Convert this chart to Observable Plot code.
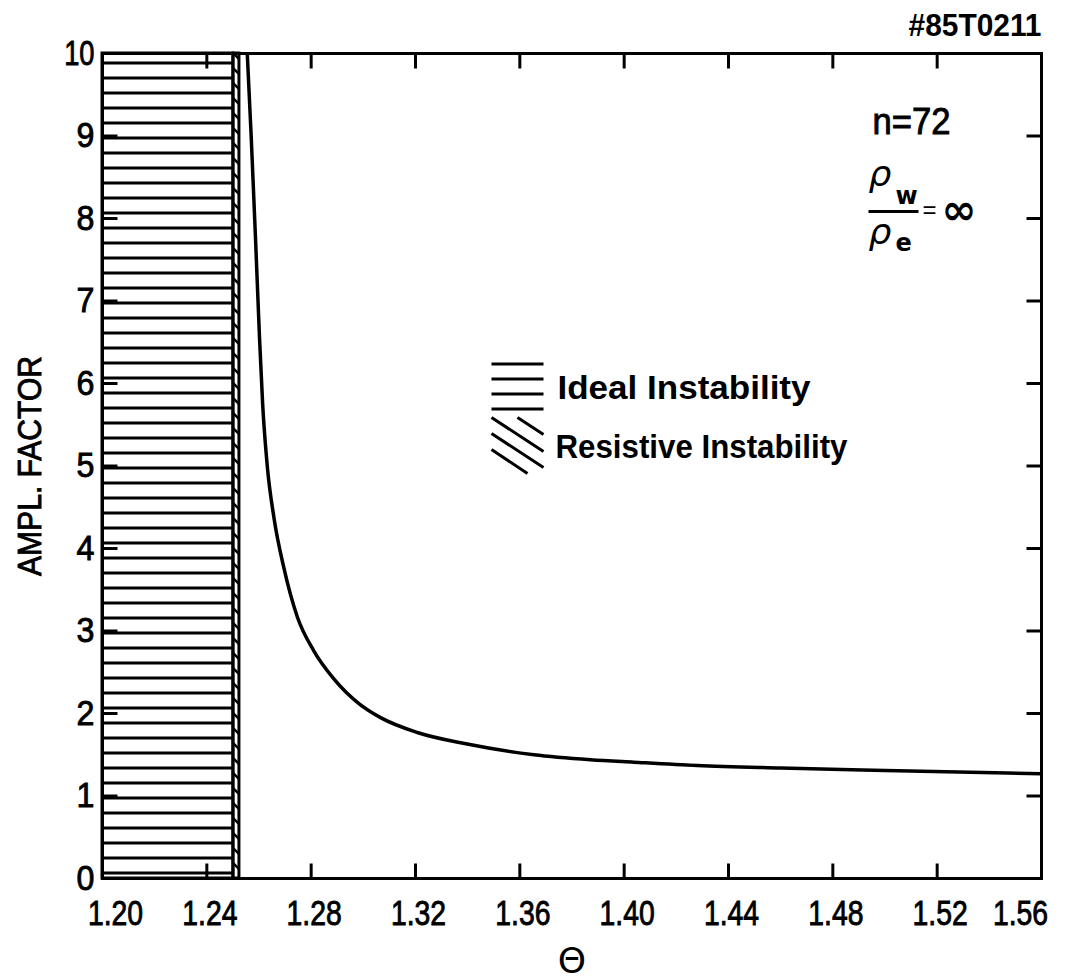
<!DOCTYPE html>
<html>
<head>
<meta charset="utf-8">
<script src="https://cdn.jsdelivr.net/npm/d3@7"></script>
<script src="https://cdn.jsdelivr.net/npm/@observablehq/plot@0.6"></script>
<style>
  html, body { margin: 0; padding: 0; background: #fff; }
</style>
</head>
<body>
<svg width="0" height="0" style="position:absolute">
  <defs>
    <pattern id="hatchH" patternUnits="userSpaceOnUse" width="20" height="15">
      <rect x="0" y="1.5" width="20" height="3" fill="#000"></rect>
    </pattern>
    <pattern id="hatchD" patternUnits="userSpaceOnUse" width="15" height="15">
      <path d="M-4,-4 L19,19 M-4,11 L4,19 M11,-4 L19,4" stroke="#000" stroke-width="2.5"></path>
    </pattern>
  </defs>
</svg>
<div id="chart"></div>
<script>
// ---- data ----
const xTicks = [1.20, 1.24, 1.28, 1.32, 1.36, 1.40, 1.44, 1.48, 1.52, 1.56];
const yTicks = [0, 1, 2, 3, 4, 5, 6, 7, 8, 9, 10];

const theta = [1.2555, 1.2570, 1.2587, 1.2602, 1.2614, 1.2632, 1.2657, 1.2695, 1.2747, 1.2810, 1.2887, 1.2983, 1.3066, 1.3207, 1.3398, 1.3654, 1.3871, 1.4037, 1.4280, 1.4600, 1.5000, 1.5600];
const ampl  = [10.0, 9.0, 7.73, 6.55, 5.75, 4.99, 4.38, 3.77, 3.17, 2.76, 2.42, 2.12, 1.95, 1.77, 1.63, 1.50, 1.44, 1.41, 1.37, 1.34, 1.31, 1.27];

const regionNames = ["Ideal Instability", "Resistive Instability"];
const regionStart = [1.2000, 1.2502];
const regionEnd   = [1.2502, 1.2525];

// ---- derived tables ----
const curve = theta.map((t, i) => ({theta: t, ampl: ampl[i]}));
const regions = regionNames.map((n, i) => ({name: n, x1: regionStart[i], x2: regionEnd[i]}));

const F = '"Liberation Sans", Arial, sans-serif';

// custom symbols (pure styling)
const tickSym = (dx, dy) => ({draw(ctx) { ctx.moveTo(0, 0); ctx.lineTo(dx, dy); }});
const barSym = (w) => ({draw(ctx) { ctx.moveTo(-w / 2, 0); ctx.lineTo(w / 2, 0); }});
const swatchH = {draw(ctx) {
  for (const y of [-22.5, -7.5, 7.5, 22.5]) { ctx.moveTo(-26, y); ctx.lineTo(26, y); }
}};
const swatchD = {draw(ctx) {
  const segs = [[-26, -28, 26, 6], [-26, -12, 26, 22], [-26, 4, 10, 28], [0, -28, 26, -11]];
  for (const [a, b, c, d] of segs) { ctx.moveTo(a, b); ctx.lineTo(c, d); }
}};

const plot = Plot.plot({
  width: 1072,
  height: 979,
  marginLeft: 102,
  marginRight: 31,
  marginTop: 53,
  marginBottom: 101,
  x: {domain: [1.20, 1.56]},
  y: {domain: [0, 10]},
  style: {fontFamily: F, color: "#000", background: "#fff", overflow: "visible"},
  marks: [
    Plot.rect(regions, {x1: "x1", x2: "x2", fill: d => d.name === "Ideal Instability" ? "url(#hatchH)" : "url(#hatchD)", stroke: "#000", strokeWidth: 3}),
    Plot.line(curve, {x: "theta", y: "ampl", curve: "monotone-x", stroke: "#000", strokeWidth: 3.5, clip: true}),
    Plot.frame({stroke: "#000", strokeWidth: 3}),
    Plot.dot(xTicks, {x: d => d, frameAnchor: "bottom", symbol: tickSym(0, -15), r: 1, fill: "none", stroke: "#000", strokeWidth: 3}),
    Plot.dot(xTicks, {x: d => d, frameAnchor: "top", symbol: tickSym(0, 15), r: 1, fill: "none", stroke: "#000", strokeWidth: 3}),
    Plot.dot(yTicks, {y: d => d, frameAnchor: "left", symbol: tickSym(15, 0), r: 1, fill: "none", stroke: "#000", strokeWidth: 3}),
    Plot.dot(yTicks, {y: d => d, frameAnchor: "right", symbol: tickSym(-15, 0), r: 1, fill: "none", stroke: "#000", strokeWidth: 3}),
    Plot.axisX(xTicks.slice(1, -1), {tickSize: 0, tickPadding: 22, fontSize: 35, tickFormat: d3.format(".2f"), label: null, dx: 3}),
    Plot.axisX(xTicks.slice(0, 1), {tickSize: 0, tickPadding: 22, fontSize: 35, tickFormat: d3.format(".2f"), label: null, dx: 13}),
    Plot.axisX(xTicks.slice(-1), {tickSize: 0, tickPadding: 22, fontSize: 35, tickFormat: d3.format(".2f"), label: null, dx: -21}),
    Plot.axisY(yTicks, {tickSize: 0, tickPadding: 8, fontSize: 35, tickFormat: d3.format("d"), label: null}),
    Plot.text(["AMPL. FACTOR"], {frameAnchor: "left", dx: -72, rotate: -90, fontSize: 33, text: d => d, textAnchor: "middle", fill: "#000"}),
    Plot.text(["Θ"], {frameAnchor: "bottom", dy: 83, fontSize: 36, text: d => d, lineAnchor: "middle", fill: "#000", fontFamily: "DejaVu Sans"}),
    Plot.text(["#85T0211"], {frameAnchor: "top-right", dx: 0, dy: -18, fontSize: 32, fontWeight: "bold", text: d => d, textAnchor: "end", lineAnchor: "bottom", fill: "#000"}),
    Plot.text(["n=72"], {frameAnchor: "top-right", dx: -169, dy: 80, fontSize: 37, text: d => d, textAnchor: "start", lineAnchor: "bottom", fill: "#000"}),
    Plot.text(["ρ"], {frameAnchor: "top-right", dx: -173, dy: 132, fontSize: 36, fontStyle: "italic", text: d => d, textAnchor: "start", lineAnchor: "bottom", fill: "#000", fontFamily: "DejaVu Sans"}),
    Plot.text(["w"], {frameAnchor: "top-right", dx: -146, dy: 150, fontSize: 24, fontWeight: "bold", text: d => d, textAnchor: "start", lineAnchor: "bottom", fill: "#000", fontFamily: "DejaVu Sans"}),
    Plot.dot([0], {frameAnchor: "top-right", dx: -148, dy: 158, symbol: barSym(50), r: 1, fill: "none", stroke: "#000", strokeWidth: 3}),
    Plot.text(["ρ"], {frameAnchor: "top-right", dx: -173, dy: 190, fontSize: 36, fontStyle: "italic", text: d => d, textAnchor: "start", lineAnchor: "bottom", fill: "#000", fontFamily: "DejaVu Sans"}),
    Plot.text(["e"], {frameAnchor: "top-right", dx: -146, dy: 197, fontSize: 24, fontWeight: "bold", text: d => d, textAnchor: "start", lineAnchor: "bottom", fill: "#000", fontFamily: "DejaVu Sans"}),
    Plot.text(["="], {frameAnchor: "top-right", dx: -112, dy: 157, fontSize: 24, text: d => d, textAnchor: "middle", lineAnchor: "middle", fill: "#000"}),
    Plot.text(["∞"], {frameAnchor: "top-right", dx: -100, dy: 157, fontSize: 42, fontWeight: "bold", text: d => d, textAnchor: "start", lineAnchor: "middle", fill: "#000", fontFamily: "DejaVu Sans"}),
    Plot.dot([0], {frameAnchor: "top-left", dx: 415, dy: 333, symbol: swatchH, r: 1, fill: "none", stroke: "#000", strokeWidth: 3}),
    Plot.dot([0], {frameAnchor: "top-left", dx: 415, dy: 392, symbol: swatchD, r: 1, fill: "none", stroke: "#000", strokeWidth: 3}),
    Plot.text([regionNames[0]], {frameAnchor: "top-left", dx: 455, dy: 345, fontSize: 34, fontWeight: "bold", text: d => d, textAnchor: "start", lineAnchor: "bottom", fill: "#000"}),
    Plot.text([regionNames[1]], {frameAnchor: "top-left", dx: 453, dy: 404, fontSize: 34, fontWeight: "bold", text: d => d, textAnchor: "start", lineAnchor: "bottom", fill: "#000"})
  ]
});
document.getElementById("chart").appendChild(plot);

// condense and thicken the lettering to match the drafting letters (styling only)
const targetWidth = {"Ideal Instability": 253, "Resistive Instability": 292, "AMPL. FACTOR": 220, "#85T0211": 133, "n=72": 78};
plot.querySelectorAll("text").forEach(t => {
  const s = t.textContent;
  const len = t.getComputedTextLength();
  let w = null, thicken = false;
  if (s in targetWidth) { w = targetWidth[s]; thicken = (s === "AMPL. FACTOR" || s === "n=72"); }
  else if (/^1\.\d\d$/.test(s)) { w = len * 0.81; thicken = true; }
  else if (/^\d+$/.test(s)) { w = len * (s.length > 1 ? 0.78 : 0.92); thicken = true; }
  if (w) { t.setAttribute("textLength", w); t.setAttribute("lengthAdjust", "spacingAndGlyphs"); }
  if (thicken) { t.setAttribute("stroke", "#000"); t.setAttribute("stroke-width", "0.9"); }
});
</script>
</body>
</html>
